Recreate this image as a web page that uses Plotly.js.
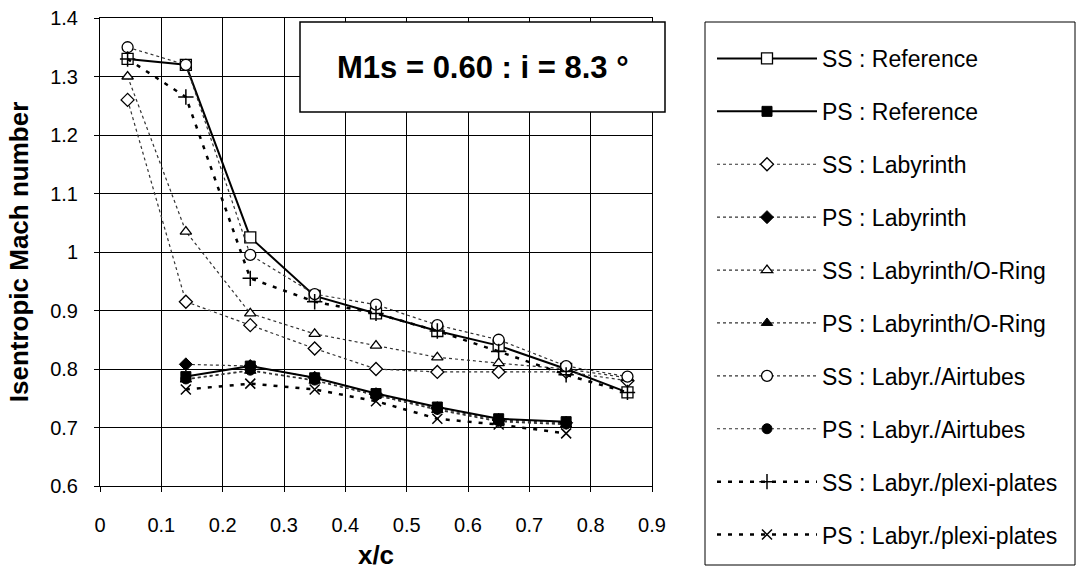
<!DOCTYPE html>
<html><head><meta charset="utf-8">
<script src="https://cdn.plot.ly/plotly-3.0.1.min.js"></script>
<style>html,body{margin:0;padding:0;background:#fff;} #chart{width:1080px;height:583px;}</style>
</head><body><div id="chart"></div>
<script>
// ---- data ----
const xSS = [0.045, 0.14, 0.245, 0.35, 0.45, 0.55, 0.65, 0.76, 0.86];
const xPS = [0.14, 0.245, 0.35, 0.45, 0.55, 0.65, 0.76];

const ssReference   = [1.33, 1.32, 1.025, 0.925, 0.895, 0.865, 0.84, 0.80, 0.76];
const psReference   = [0.787, 0.805, 0.785, 0.758, 0.735, 0.715, 0.71];
const ssLabyrinth   = [1.26, 0.915, 0.875, 0.835, 0.80, 0.795, 0.795, 0.795, 0.78];
const psLabyrinth   = [0.808, 0.805, 0.785, 0.757, 0.733, 0.713, 0.708];
const ssLabORing    = [1.30, 1.035, 0.895, 0.86, 0.84, 0.82, 0.81, 0.80, 0.785];
const psLabORing    = [0.782, 0.797, 0.78, 0.755, 0.73, 0.71, 0.705];
const ssLabAirtubes = [1.35, 1.32, 0.995, 0.928, 0.91, 0.875, 0.85, 0.805, 0.787];
const psLabAirtubes = [0.783, 0.798, 0.781, 0.755, 0.731, 0.711, 0.706];
const ssLabPlexi    = [1.33, 1.265, 0.955, 0.915, 0.895, 0.865, 0.83, 0.79, 0.76];
const psLabPlexi    = [0.765, 0.775, 0.765, 0.745, 0.715, 0.705, 0.69];

const seriesNames = [
  "SS : Reference", "PS : Reference", "SS : Labyrinth", "PS : Labyrinth",
  "SS : Labyrinth/O-Ring", "PS : Labyrinth/O-Ring", "SS : Labyr./Airtubes",
  "PS : Labyr./Airtubes", "SS : Labyr./plexi-plates", "PS : Labyr./plexi-plates"
];
const xTickVals = [0, 0.1, 0.2, 0.3, 0.4, 0.5, 0.6, 0.7, 0.8, 0.9];
const yTickVals = [0.6, 0.7, 0.8, 0.9, 1.0, 1.1, 1.2, 1.3, 1.4];
const titleText = "M1s = 0.60 : i = 8.3 °";
const xTitle = "x/c";
const yTitle = "Isentropic Mach number";

// ---- styling ----
const FONT = "'Liberation Sans', Arial, Helvetica, sans-serif";
const solid = {color: "#000", width: 2, dash: "solid"};
const dotted = {color: "#333", width: 1.2, dash: "dot"};
const dashed = {color: "#000", width: 2.5, dash: "4px,7px"};
const openMk = (sym, size) => ({symbol: sym, size: size, color: "#fff", line: {color: "#000", width: 1.3}});
const fillMk = (sym, size) => ({symbol: sym, size: size, color: "#000", line: {color: "#000", width: 1}});

function tr(idx, x, y, line, marker) {
  return {
    type: "scatter", mode: "lines+markers", x: x, y: y,
    name: seriesNames[idx], line: line, marker: marker,
    legendrank: idx + 1, legendgroup: "g" + idx, showlegend: true,
    hoverinfo: "skip"
  };
}

// draw order (z-order) chosen so that hidden PS markers stay beneath the reference squares
const traces = [
  tr(5, xPS, psLabORing, dotted, fillMk("triangle-up", 10)),
  tr(7, xPS, psLabAirtubes, dotted, fillMk("circle", 10)),
  tr(3, xPS, psLabyrinth, dotted, fillMk("diamond", 10)),
  tr(1, xPS, psReference, solid, fillMk("square", 10)),
  tr(0, xSS, ssReference, solid, openMk("square", 11)),
  tr(2, xSS, ssLabyrinth, dotted, openMk("diamond", 10)),
  tr(4, xSS, ssLabORing, dotted, openMk("triangle-up", 10)),
  tr(6, xSS, ssLabAirtubes, dotted, openMk("circle", 11)),
  tr(8, xSS, ssLabPlexi, dashed, {symbol: "cross-thin-open", size: 11, color: "#000", line: {color: "#000", width: 1.5}}),
  tr(9, xPS, psLabPlexi, dashed, {symbol: "x-thin-open", size: 10, color: "#000", line: {color: "#000", width: 1.5}})
];

const L = 100, R = 652, T = 18, B = 486, W = 1080, H = 583;
const px2x = p => (p - L) / (R - L);
const px2y = p => (B - p) / (B - T);

const layout = {
  width: W, height: H,
  margin: {l: L, r: W - R, t: T, b: H - B, pad: 0},
  paper_bgcolor: "#fff", plot_bgcolor: "#fff",
  font: {family: FONT, color: "#000", size: 20},
  showlegend: true,
  xaxis: {
    range: [0, 0.9], tickvals: xTickVals, ticktext: xTickVals.map(String),
    showgrid: true, gridcolor: "#000", gridwidth: 1,
    showline: true, linecolor: "#000", linewidth: 1, mirror: true,
    ticks: "outside", ticklen: 5, tickcolor: "#000", ticklabelstandoff: 16,
    tickfont: {size: 20, family: FONT},
    zeroline: false, fixedrange: true,
    title: {text: xTitle, font: {size: 26, family: FONT, weight: "bold"}, standoff: 10}
  },
  yaxis: {
    range: [0.6, 1.4], tickvals: yTickVals, ticktext: yTickVals.map(v => String(+v.toFixed(1))),
    showgrid: true, gridcolor: "#000", gridwidth: 1,
    showline: true, linecolor: "#000", linewidth: 1, mirror: true,
    ticks: "outside", ticklen: 5, tickcolor: "#000", ticklabelstandoff: 12,
    tickfont: {size: 20, family: FONT},
    zeroline: false, fixedrange: true,
    title: {text: yTitle, font: {size: 26, family: FONT, weight: "bold"}, standoff: 14}
  },
  legend: {
    x: px2x(712), y: px2y(37), xanchor: "left", yanchor: "top",
    borderwidth: 0, bgcolor: "rgba(0,0,0,0)",
    font: {size: 23, family: FONT, color: "#000"},
    traceorder: "grouped", tracegroupgap: 20, itemwidth: 100, maxheight: 570,
    itemclick: false, itemdoubleclick: false
  },
  shapes: [{
    type: "rect", xref: "paper", yref: "paper",
    x0: px2x(705), x1: px2x(1075), y0: px2y(565), y1: px2y(22),
    line: {color: "#000", width: 1}, fillcolor: "rgba(0,0,0,0)", layer: "below"
  }, {
    type: "rect", xref: "paper", yref: "paper",
    x0: px2x(300), x1: px2x(665), y0: px2y(112), y1: px2y(22),
    line: {color: "#000", width: 1.5}, fillcolor: "#fff", layer: "above"
  }],
  annotations: [{
    xref: "paper", yref: "paper", x: px2x(483), y: px2y(68),
    xanchor: "center", yanchor: "middle", showarrow: false,
    text: "<b>" + titleText + "</b>",
    font: {size: 31, family: FONT, color: "#000"}
  }]
};

Plotly.newPlot("chart", traces, layout, {displayModeBar: false, staticPlot: true});
</script>
</body></html>
